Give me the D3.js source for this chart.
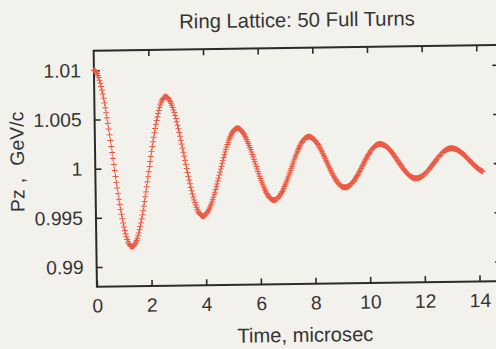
<!DOCTYPE html>
<html>
<head>
<meta charset="utf-8">
<script src="https://cdn.jsdelivr.net/npm/d3@7"></script>
<style>
  html, body { margin: 0; padding: 0; background: #f3f1ec; }
  svg { display: block; }
</style>
</head>
<body>
<svg id="chart" width="496" height="349"></svg>
<script>
// ---- chart text ----
const title = "Ring Lattice: 50 Full Turns";
const xLabel = "Time, microsec";
const yLabelParts = ["Pz", ",", "GeV/c"];

// ---- axis ticks ----
const xTicks = [0, 2, 4, 6, 8, 10, 12, 14];
const yTicks = [0.99, 0.995, 1, 1.005, 1.01];
const yTickLabels = ["0.99", "0.995", "1", "1.005", "1.01"];

// ---- sampling: 50 turns, 10 observation points per turn ----
const turns = 50;
const samplesPerTurn = 10;
const turnTime = 0.2834; // microseconds per turn

// ---- longitudinal momentum Pz (GeV/c), one value per observation point ----
const pz = [
  1.01, 1.00998, 1.00992, 1.00981, 1.00967, 1.00948, 1.00926, 1.00899, 1.00869, 1.00835, 1.00798, 1.00758,
  1.00715, 1.00668, 1.00619, 1.00568, 1.00515, 1.00459, 1.00402, 1.00344, 1.00284, 1.00223, 1.00162, 1.00101,
  1.0004, 0.99979, 0.99918, 0.99858, 0.998, 0.99743, 0.99687, 0.99634, 0.99583, 0.99534, 0.99487, 0.99444,
  0.99404, 0.99366, 0.99333, 0.99303, 0.99276, 0.99254, 0.99235, 0.99221, 0.9921, 0.99204,

  0.99202, 0.99204, 0.99209, 0.99218, 0.9923, 0.99246, 0.99265, 0.99287, 0.99313, 0.99341, 0.99373, 0.99407,
  0.99443, 0.99483, 0.99524, 0.99567, 0.99613, 0.9966, 0.99708, 0.99757, 0.99808, 0.99859, 0.99911, 0.99962,
  1.00014, 1.00066, 1.00117, 1.00168, 1.00217, 1.00266, 1.00312, 1.00358, 1.00401, 1.00442, 1.00482, 1.00518,
  1.00552, 1.00584, 1.00612, 1.00638, 1.0066, 1.00679, 1.00695, 1.00707, 1.00716, 1.00721,

  1.00723, 1.00722, 1.00717, 1.0071, 1.007, 1.00688, 1.00672, 1.00655, 1.00634, 1.00611, 1.00586, 1.00559,
  1.0053, 1.00498, 1.00465, 1.0043, 1.00394, 1.00356, 1.00318, 1.00278, 1.00238, 1.00197, 1.00155, 1.00114,
  1.00072, 1.00031, 0.99989, 0.99949, 0.99909, 0.99871, 0.99833, 0.99797, 0.99762, 0.99729, 0.99697, 0.99668,
  0.99641, 0.99616, 0.99593, 0.99572, 0.99554, 0.99539, 0.99527, 0.99517, 0.9951, 0.99505,

  0.99504, 0.99505, 0.99508, 0.99513, 0.9952, 0.9953, 0.99541, 0.99554, 0.99569, 0.99585, 0.99604, 0.99623,
  0.99645, 0.99668, 0.99692, 0.99717, 0.99744, 0.99771, 0.99799, 0.99828, 0.99857, 0.99887, 0.99917, 0.99948,
  0.99978, 1.00008, 1.00038, 1.00067, 1.00096, 1.00124, 1.00152, 1.00178, 1.00203, 1.00227, 1.0025, 1.00272,
  1.00291, 1.0031, 1.00326, 1.00341, 1.00354, 1.00365, 1.00375, 1.00382, 1.00387, 1.0039,

  1.00391, 1.0039, 1.00388, 1.00383, 1.00377, 1.0037, 1.00361, 1.0035, 1.00337, 1.00324, 1.00309, 1.00292,
  1.00274, 1.00255, 1.00235, 1.00214, 1.00193, 1.0017, 1.00147, 1.00123, 1.00098, 1.00074, 1.00049, 1.00024,
  0.99998, 0.99974, 0.99949, 0.99924, 0.999, 0.99877, 0.99854, 0.99833, 0.99812, 0.99792, 0.99773, 0.99755,
  0.99738, 0.99723, 0.9971, 0.99697, 0.99686, 0.99677, 0.9967, 0.99664, 0.99659, 0.99657,

  0.99656, 0.99657, 0.99659, 0.99663, 0.99668, 0.99674, 0.99683, 0.99692, 0.99703, 0.99715, 0.99728, 0.99742,
  0.99757, 0.99774, 0.99791, 0.9981, 0.99829, 0.99848, 0.99869, 0.99889, 0.99911, 0.99932, 0.99954, 0.99976,
  0.99997, 1.00019, 1.0004, 1.00062, 1.00082, 1.00103, 1.00122, 1.00141, 1.0016, 1.00177, 1.00194, 1.00209,
  1.00223, 1.00236, 1.00248, 1.00259, 1.00268, 1.00277, 1.00283, 1.00288, 1.00292, 1.00294,

  1.00295, 1.00294, 1.00293, 1.0029, 1.00285, 1.0028, 1.00273, 1.00266, 1.00257, 1.00247, 1.00237, 1.00225,
  1.00213, 1.00199, 1.00185, 1.0017, 1.00155, 1.00139, 1.00122, 1.00105, 1.00088, 1.0007, 1.00053, 1.00035,
  1.00017, 1, 0.99982, 0.99965, 0.99948, 0.99931, 0.99915, 0.999, 0.99885, 0.99871, 0.99858, 0.99845,
  0.99833, 0.99823, 0.99813, 0.99804, 0.99797, 0.9979, 0.99785, 0.9978, 0.99777, 0.99776,

  0.99775, 0.99775, 0.99777, 0.9978, 0.99783, 0.99788, 0.99793, 0.99799, 0.99807, 0.99815, 0.99824, 0.99834,
  0.99844, 0.99855, 0.99867, 0.9988, 0.99893, 0.99906, 0.9992, 0.99934, 0.99949, 0.99963, 0.99978, 0.99993,
  1.00008, 1.00023, 1.00037, 1.00052, 1.00066, 1.0008, 1.00093, 1.00106, 1.00119, 1.00131, 1.00142, 1.00152,
  1.00162, 1.00171, 1.00179, 1.00187, 1.00193, 1.00198, 1.00203, 1.00206, 1.00209, 1.0021,

  1.00211, 1.00211, 1.00209, 1.00207, 1.00204, 1.00201, 1.00196, 1.00191, 1.00185, 1.00179, 1.00171, 1.00163,
  1.00155, 1.00146, 1.00136, 1.00126, 1.00115, 1.00104, 1.00093, 1.00082, 1.0007, 1.00058, 1.00046, 1.00034,
  1.00022, 1.0001, 0.99998, 0.99986, 0.99975, 0.99964, 0.99953, 0.99942, 0.99932, 0.99922, 0.99913, 0.99905,
  0.99897, 0.99889, 0.99883, 0.99877, 0.99872, 0.99867, 0.99864, 0.99861, 0.99859, 0.99857,

  0.99857, 0.99857, 0.99858, 0.9986, 0.99863, 0.99866, 0.99869, 0.99874, 0.99879, 0.99885, 0.99891, 0.99897,
  0.99905, 0.99912, 0.99921, 0.99929, 0.99938, 0.99947, 0.99957, 0.99967, 0.99977, 0.99987, 0.99997, 1.00007,
  1.00017, 1.00027, 1.00037, 1.00047, 1.00057, 1.00067, 1.00076, 1.00085, 1.00093, 1.00102, 1.00109, 1.00117,
  1.00123, 1.00129, 1.00135, 1.0014, 1.00145, 1.00148, 1.00151, 1.00154, 1.00156, 1.00157,

  1.00157, 1.00157, 1.00156, 1.00154, 1.00152, 1.0015, 1.00147, 1.00143, 1.00139, 1.00134, 1.00129, 1.00123,
  1.00117, 1.00111, 1.00104, 1.00097, 1.0009, 1.00082, 1.00074, 1.00066, 1.00058, 1.00049, 1.00041, 1.00032,
  1.00024, 1.00015, 1.00007, 0.99999, 0.99991, 0.99983, 0.99975, 0.99968, 0.99961, 0.99954, 0.99948, 0.99942,
  0.99936, 0.99931, 0.99926, 0.99922, 0.99918
];

// ---- layout ----
const W = 496, H = 349;
const frame = { left: 95.3, top: 48, bottom: 284, right: 499.8 };
const FONT = "'Liberation Sans', Arial, Helvetica, sans-serif";
const INK = "#2b2b2b";
const TEXT = "#353535";
const MARK = "#ec5a44";

const x = d3.scaleLinear().domain([0, 14.8]).range([frame.left, frame.right]);
const y = d3.scaleLinear().domain([0.988, 1.012]).range([frame.bottom, frame.top]);

const svg = d3.select("#chart");
svg.append("rect").attr("width", W).attr("height", H).attr("fill", "#f3f1ec");

// the printed sheet sits a little askew
const g = svg.append("g").attr("transform", "rotate(-0.8 290 168)");

function styleAxis(sel, showLabels) {
  sel.select(".domain").remove();
  sel.selectAll(".tick line").attr("stroke", INK).attr("stroke-width", 1.6);
  sel.selectAll(".tick text")
    .attr("fill", TEXT)
    .attr("font-family", FONT)
    .attr("font-size", 19.3)
    .style("display", showLabels ? null : "none");
}

// bottom axis with labels
g.append("g")
  .attr("transform", `translate(0,${frame.bottom})`)
  .call(d3.axisBottom(x).tickValues(xTicks).tickSize(-6).tickPadding(12).tickFormat(d3.format("d")))
  .call(s => styleAxis(s, true));

// top mirror ticks
g.append("g")
  .attr("transform", `translate(0,${frame.top})`)
  .call(d3.axisTop(x).tickValues(xTicks.filter(d => d > 0)).tickSize(-6))
  .call(s => styleAxis(s, false));

// left axis with labels
g.append("g")
  .attr("transform", `translate(${frame.left},0)`)
  .call(d3.axisLeft(y).tickValues(yTicks).tickSize(-6).tickPadding(13)
    .tickFormat((d, i) => yTickLabels[i]))
  .call(s => styleAxis(s, true));

// right mirror ticks
g.append("g")
  .attr("transform", `translate(${frame.right},0)`)
  .call(d3.axisRight(y).tickValues(yTicks).tickSize(-6))
  .call(s => styleAxis(s, false));

// plot frame
g.append("rect")
  .attr("x", frame.left).attr("y", frame.top)
  .attr("width", frame.right - frame.left).attr("height", frame.bottom - frame.top)
  .attr("fill", "none").attr("stroke", INK).attr("stroke-width", 2);

// "+" markers, one per observation point
const dt = turnTime / samplesPerTurn;
const arm = 3;
const markPath = pz.map((v, i) => {
  const px = x(i * dt), py = y(v);
  return `M${px - arm},${py}h${2 * arm}M${px},${py - arm}v${2 * arm}`;
}).join("");
g.append("path")
  .attr("d", markPath)
  .attr("fill", "none")
  .attr("stroke", MARK)
  .attr("stroke-width", 1);

// title
g.append("text")
  .attr("x", 299).attr("y", 27)
  .attr("text-anchor", "middle")
  .attr("font-family", FONT).attr("font-size", 20.3).attr("fill", TEXT)
  .text(title);

// x-axis title
g.append("text")
  .attr("x", 303).attr("y", 342)
  .attr("text-anchor", "middle")
  .attr("font-family", FONT).attr("font-size", 20.2).attr("fill", TEXT)
  .text(xLabel);

// y-axis title
const yt = g.append("text")
  .attr("transform", "translate(24,158) rotate(-90)")
  .attr("text-anchor", "middle")
  .attr("font-family", FONT).attr("font-size", 19.5).attr("fill", TEXT);
yt.append("tspan").text(yLabelParts[0]);
yt.append("tspan").attr("dx", 6).text(yLabelParts[1]);
yt.append("tspan").attr("dx", 12).text(yLabelParts[2]);
</script>
</body>
</html>
